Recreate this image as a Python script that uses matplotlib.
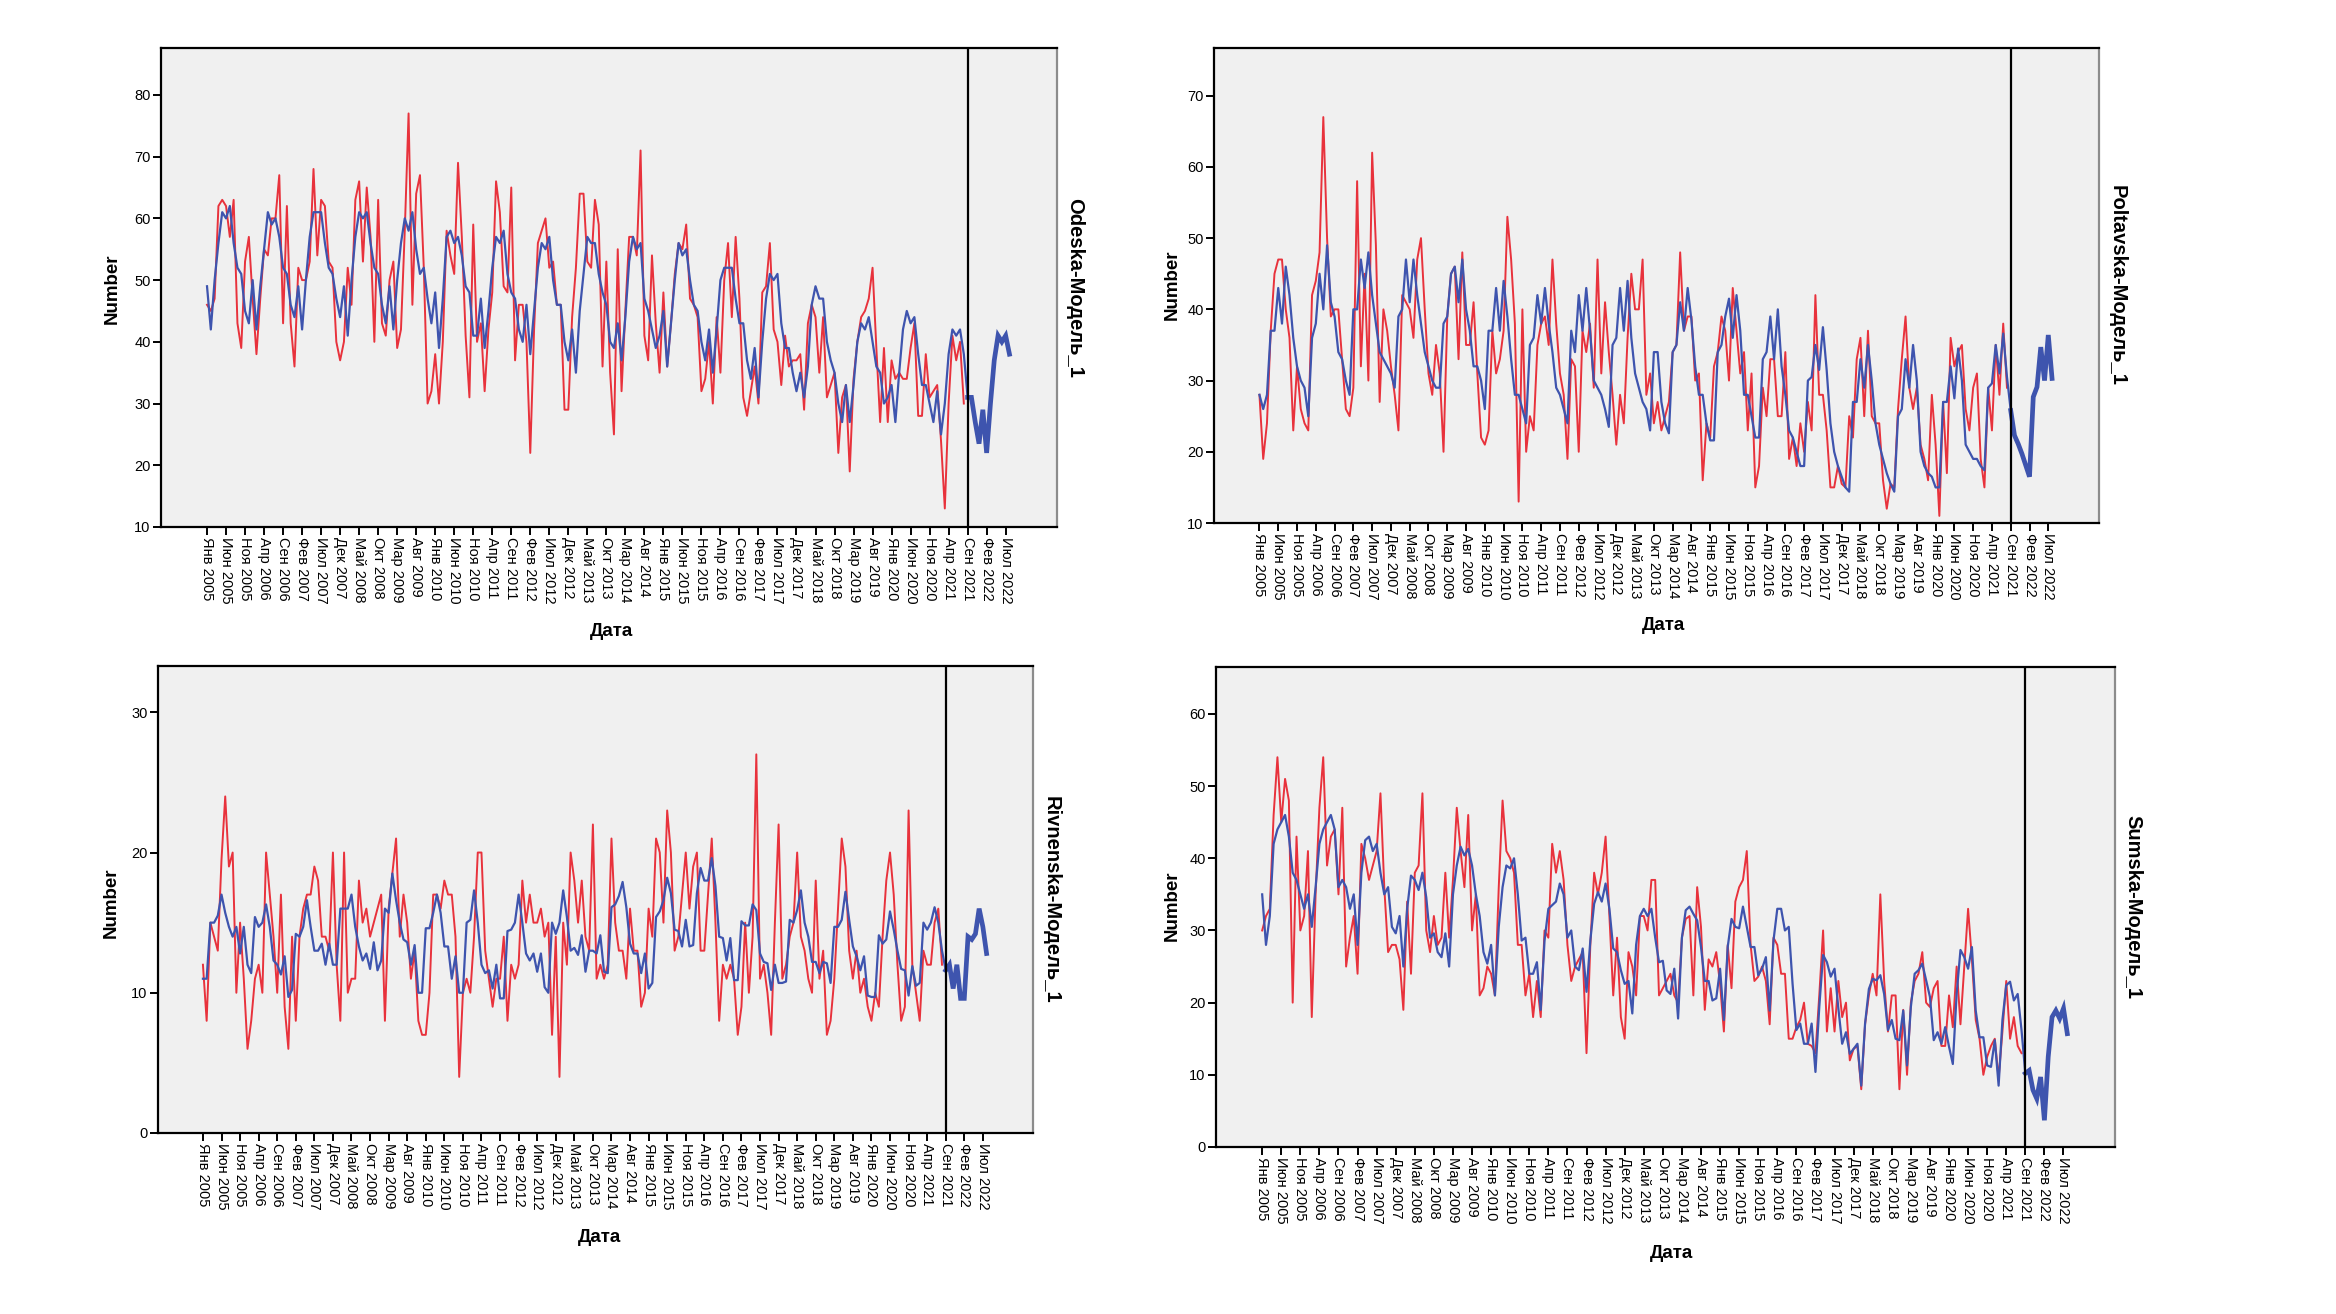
"""Observed vs model (Expert Modeler) monthly counts, four oblasts, Jan 2005 - Aug 2022."""
import matplotlib
matplotlib.use("Agg")
import matplotlib.pyplot as plt
import numpy as np

plt.rcParams["font.family"] = ["Liberation Sans", "DejaVu Sans"]

W, H = 2336, 1314

TICK_LABELS = ["Янв 2005", "Июн 2005", "Ноя 2005", "Апр 2006", "Сен 2006", "Фев 2007",
               "Июл 2007", "Дек 2007", "Май 2008", "Окт 2008", "Мар 2009", "Авг 2009",
               "Янв 2010", "Июн 2010", "Ноя 2010", "Апр 2011", "Сен 2011", "Фев 2012",
               "Июл 2012", "Дек 2012", "Май 2013", "Окт 2013", "Мар 2014", "Авг 2014",
               "Янв 2015", "Июн 2015", "Ноя 2015", "Апр 2016", "Сен 2016", "Фев 2017",
               "Июл 2017", "Дек 2017", "Май 2018", "Окт 2018", "Мар 2019", "Авг 2019",
               "Янв 2020", "Июн 2020", "Ноя 2020", "Апр 2021", "Сен 2021", "Фев 2022",
               "Июл 2022"]
FORECAST_START = 200  # Сен 2021

# ---- Odeska ----
ODESKA_OBS = [46, 45, 47, 62, 63, 62, 57, 63, 43, 39,
              53, 57, 47, 38, 47, 55, 54, 60, 60, 67,
              43, 62, 43, 36, 52, 50, 50, 53, 68, 54,
              63, 62, 53, 52, 40, 37, 40, 52, 46, 63,
              66, 53, 65, 57, 40, 63, 43, 41, 50, 53,
              39, 42, 58, 77, 46, 64, 67, 52, 30, 32,
              38, 30, 40, 58, 54, 51, 69, 57, 41, 31,
              59, 40, 43, 32, 42, 48, 66, 61, 49, 48,
              65, 37, 46, 46, 40, 22, 42, 56, 58, 60,
              52, 53, 46, 46, 29, 29, 44, 52, 64, 64,
              53, 52, 63, 59, 36, 53, 35, 25, 55, 32,
              45, 57, 57, 54, 71, 41, 37, 54, 43, 35,
              48, 36, 43, 51, 56, 55, 59, 47, 46, 44,
              32, 34, 40, 30, 44, 35, 50, 56, 44, 57,
              47, 31, 28, 32, 36, 30, 48, 49, 56, 42,
              40, 33, 41, 36, 37, 37, 38, 29, 43, 46,
              44, 35, 44, 31, 33, 35, 22, 31, 33, 19,
              34, 40, 44, 45, 47, 52, 39, 27, 39, 27,
              37, 34, 35, 34, 34, 39, 43, 28, 28, 38,
              31, 32, 33, 24, 13, 30, 41, 37, 40, 30]
ODESKA_FIT = [49, 42, 50, 56, 61, 60, 62, 56, 52, 51,
              45, 43, 50, 42, 49, 55, 61, 59, 60, 57,
              52, 51, 46, 44, 49, 42, 50, 57, 61, 61,
              61, 56, 52, 51, 47, 44, 49, 41, 50, 57,
              61, 60, 61, 56, 52, 51, 46, 43, 49, 42,
              50, 56, 60, 58, 61, 55, 51, 52, 47, 43,
              48, 39, 47, 57, 58, 56, 57, 54, 49, 48,
              41, 41, 47, 39, 45, 52, 57, 56, 58, 51,
              48, 47, 42, 40, 46, 38, 45, 52, 56, 55,
              57, 50, 46, 46, 40, 37, 42, 35, 45, 51,
              57, 56, 56, 51, 48, 46, 40, 39, 43, 37,
              44, 53, 57, 55, 56, 47, 45, 42, 39, 41,
              45, 36, 43, 50, 56, 54, 55, 50, 46, 45,
              40, 37, 42, 35, 42, 50, 52, 52, 52, 47,
              43, 43, 37, 34, 39, 31, 40, 47, 51, 50,
              51, 43, 39, 39, 35, 32, 35, 31, 36, 46,
              49, 47, 47, 40, 37, 35, 30, 27, 33, 27,
              33, 40, 43, 42, 44, 40, 36, 35, 30, 31,
              33, 27, 35, 42, 45, 43, 44, 38, 33, 33,
              30, 27, 32, 25, 30, 38, 42, 41, 42, 38]
ODESKA_FC = [31, 31, 27, 23.5, 29, 22, 30, 37, 41, 40, 41, 38]

# ---- Poltavska ----
POLTAVSKA_OBS = [28, 19, 24, 37, 45, 47, 47, 40, 36, 23,
                 32, 26, 24, 23, 42, 44, 48, 67, 50, 39,
                 40, 40, 33, 26, 25, 29, 58, 32, 45, 30,
                 62, 49, 27, 40, 37, 32, 28, 23, 42, 41,
                 40, 36, 47, 50, 40, 31, 28, 35, 31, 20,
                 39, 45, 46, 33, 48, 35, 35, 41, 31, 22,
                 21, 23, 37, 31, 33, 37, 53, 47, 38, 13,
                 40, 20, 25, 23, 35, 38, 39, 35, 47, 38,
                 31, 28, 19, 33, 32, 20, 37, 34, 38, 29,
                 47, 31, 41, 34, 28, 21, 28, 24, 36, 45,
                 40, 40, 47, 28, 31, 24, 27, 23, 25, 27,
                 34, 35, 48, 37, 39, 39, 30, 31, 16, 24,
                 22, 32, 34, 39, 37, 30, 43, 37, 31, 34,
                 23, 31, 15, 18, 29, 25, 33, 33, 25, 25,
                 34, 19, 22, 18, 24, 20, 27, 23, 42, 28,
                 28, 23, 15, 15, 18, 15.5, 15, 25, 22, 33,
                 36, 25, 37, 25, 24, 24, 16, 12, 15.5, 15,
                 26, 33, 39, 29, 26, 29, 21, 19, 16, 28,
                 21, 11, 27, 17, 36, 32, 34, 35, 26, 23,
                 29, 31, 19, 15, 29, 23, 35, 28, 38, 29]
POLTAVSKA_FIT = [28, 26, 28, 37, 37, 43, 38, 46, 42, 36,
                 32, 30, 29, 25, 36, 38, 45, 40, 49, 41,
                 39, 34, 33, 30, 28, 40, 40, 47, 43, 48,
                 42, 38, 34, 33, 32, 31, 29, 39, 40, 47,
                 41, 47, 42, 38, 34, 32, 30, 29, 29, 38,
                 39, 45, 46, 41, 47, 40, 37, 32, 32, 30,
                 26, 37, 37, 43, 37, 44, 39, 33, 28, 28,
                 26, 24, 35, 36, 42, 38, 43, 38, 34, 29,
                 28, 26, 24, 37, 34, 42, 37, 43, 37, 30,
                 29, 28, 26, 23.5, 35, 36, 43, 37, 44, 36,
                 31, 29, 27, 26, 23, 34, 34, 27, 24, 22.6,
                 34, 35, 41, 37, 43, 38.5, 32, 28, 28, 24,
                 21.6, 21.6, 34, 35, 39, 41.5, 36, 42, 37, 28,
                 28, 25, 22, 22, 33, 34, 39, 33, 40, 32,
                 28, 23, 22, 20, 18, 18, 30, 30.5, 35, 31.5,
                 37.5, 31.5, 24, 20, 18, 16.5, 15, 14.4, 27, 27,
                 33, 29, 35, 30, 24, 21, 19, 17, 15.5, 14.4,
                 25, 26, 33, 29, 35, 30, 20, 18, 17, 16.5,
                 15, 15, 27, 27, 32, 27.5, 34.5, 30, 21, 20,
                 19, 19, 18, 17.4, 29, 29.6, 35, 31, 36.6, 30.5]
POLTAVSKA_FC = [25.8, 22.3, 21.1, 19.7, 18.1, 16.5, 27.7, 29.1, 34.7, 30, 36.4, 30.3]

# ---- Rivnenska ----
RIVNENSKA_OBS = [12, 8, 15, 14, 13, 19.5, 24, 19, 20, 10,
                 15, 11, 6, 8, 11, 12, 10, 20, 17, 14,
                 10, 17, 9, 6, 14, 8, 14, 16, 17, 17,
                 19, 18, 14, 14, 13, 20, 12, 8, 20, 10,
                 11, 11, 18, 15, 16, 14, 15, 16, 17, 8,
                 16, 18.5, 21, 14, 17, 15, 11, 13, 8, 7,
                 7, 10, 17, 17, 16, 18, 17, 17, 14, 4,
                 10, 11, 10, 14, 20, 20, 13, 11, 9, 11,
                 11, 14, 8, 12, 11, 12, 18, 15, 17, 15,
                 15, 16, 14, 15, 7, 14, 4, 15, 12, 20,
                 18, 15, 18, 14, 13, 22, 11, 12, 11, 12,
                 21, 15, 13, 13, 11, 16, 13, 13, 9, 10,
                 16, 14, 21, 20, 15, 23, 20, 13, 14, 17,
                 20, 16, 19, 20, 13, 13, 17, 21, 15, 8,
                 12, 11, 12, 11, 7, 9, 15, 10, 14, 27,
                 11, 12, 10, 7, 15, 22, 11, 12, 14, 15,
                 20, 14, 13, 11, 10, 18, 11, 13, 7, 8,
                 11, 16, 21, 19, 13, 11, 13, 10, 11, 9,
                 8, 10, 9, 14, 18, 20, 17, 12, 8, 9,
                 23, 12, 10, 8, 13, 12, 12, 15, 16, 12]
RIVNENSKA_FIT = [11, 11, 15, 15, 15.5, 17, 15.7, 14.7, 14, 14.7,
                 12.8, 14.7, 12, 11.4, 15.4, 14.7, 15, 16.3, 14.7, 12.3,
                 12, 11.3, 12.6, 9.7, 10.2, 14.2, 14, 14.7, 16.6, 14.7,
                 13, 13, 13.5, 12, 13.5, 12, 12, 16, 16, 16,
                 17, 14.7, 13.3, 12.3, 12.8, 11.7, 13.6, 11.6, 12.3, 16,
                 15.7, 18.5, 16.6, 15, 13.8, 13.6, 12, 13.4, 10, 10,
                 14.6, 14.6, 15.7, 17, 15.7, 13.3, 13.3, 11, 12.6, 10,
                 10, 15, 15.2, 17.3, 15, 12, 11.4, 11.6, 10.3, 12,
                 9.6, 9.6, 14.4, 14.5, 15, 17, 15, 12.8, 12.3, 12.8,
                 11.5, 12.8, 10.4, 10, 15, 14.2, 15, 17.3, 15.4, 13,
                 13.2, 12.7, 14.1, 11.5, 13, 13, 12.8, 14.1, 11.5, 11.4,
                 16.1, 16.3, 16.9, 17.9, 16.1, 13.5, 12.8, 12.8, 11.4, 12.8,
                 10.3, 10.7, 15.4, 15.8, 16.6, 18.2, 17.1, 14.5, 14.4, 13.3,
                 15.2, 13.3, 13.4, 17.1, 18.9, 18, 18, 19.6, 17.6, 14,
                 13.9, 12.3, 13.9, 10.9, 10.9, 15.1, 14.8, 14.8, 16.3, 15.9,
                 12.8, 12.2, 12.1, 10.2, 12, 10.7, 10.7, 10.8, 15.2, 15,
                 15.9, 17.3, 15, 14, 12.2, 12.2, 11.4, 12.2, 12.1, 10.7,
                 14.7, 14.7, 15.2, 17.2, 15.2, 13.3, 12.6, 11.6, 12.6, 9.8,
                 9.7, 9.7, 14.1, 13.5, 13.8, 15.8, 14.5, 13, 11.7, 11.6,
                 9.8, 11.9, 10.5, 10.7, 15, 14.5, 15, 16.1, 15, 13]
RIVNENSKA_FC = [11.6, 12, 10.3, 12, 9.6, 9.6, 14, 13.8, 14.2, 16, 14.7, 12.8]

# ---- Sumska ----
SUMSKA_OBS = [30, 32, 33, 46, 54, 45, 51, 48, 20, 43,
              30, 32, 41, 18, 35, 47, 54, 39, 43, 44,
              35, 47, 25, 29, 32, 24, 42, 40, 37, 39,
              41, 49, 36, 27, 28, 28, 26, 19, 34, 24,
              38, 39, 49, 30, 27, 32, 28, 29, 38, 29,
              37, 47, 41, 36, 46, 30, 35, 21, 22, 25,
              24, 21, 36, 48, 41, 40, 38, 28, 28, 21,
              24, 18, 23, 18, 30, 29, 42, 38, 41, 37,
              28, 23, 25, 26, 27, 13, 28, 38, 35, 38,
              43, 32, 21, 29, 18, 15, 27, 25, 21, 32,
              32, 30, 37, 37, 21, 22, 23, 24, 21, 20,
              29, 31.6, 32, 21, 36, 30.5, 19, 26, 25, 27,
              22.6, 16, 28, 22, 34, 36, 37, 41, 28, 23,
              23.6, 25, 23, 17, 29, 28, 24, 24, 15, 15,
              16.6, 17.6, 20, 14.3, 14, 13, 21, 30, 16, 22,
              16, 23, 18, 20, 12, 13.6, 14, 8, 17, 21,
              24, 21, 35, 23, 16, 21, 21, 8, 19, 10,
              20, 23, 24, 27, 20, 19.4, 22, 23, 14, 14,
              21, 16.6, 25, 17, 25, 33, 26, 17.6, 15, 10,
              12.5, 14, 15, 9.5, 16, 23, 15, 18, 14, 13]
SUMSKA_FIT = [35, 28, 32, 42, 44, 45, 46, 43, 38, 37,
              35, 33, 35, 30.5, 36, 42, 44, 45, 46, 44,
              36, 37, 36, 33, 35, 28, 38, 42.5, 43, 41,
              42, 38, 35, 36, 30.5, 29.6, 32, 25, 33, 37.6,
              37, 35.6, 38, 34.6, 29, 29.6, 27, 26.3, 29.6, 25,
              35, 39, 41.6, 40.4, 41.3, 39, 35, 32, 27, 25.4,
              28, 21, 30.5, 36, 39, 38.6, 40, 35, 28.6, 29,
              24, 24, 25.6, 19, 28.6, 33, 33.5, 34, 36.5, 35,
              29, 30, 25, 24.5, 27.5, 21.5, 28.6, 33.7, 35.3, 34,
              36.5, 33, 27.5, 27, 24.5, 22.6, 23, 18.5, 28, 32,
              33, 32, 33, 29, 25.6, 25.8, 21.7, 21.2, 24.7, 17.8,
              29, 32.8, 33.3, 32.3, 31.4, 27.7, 23, 23, 20.3, 20.6,
              24.7, 17.6, 27.7, 31.6, 30.5, 30.3, 33.3, 30.5, 27.7, 27.7,
              23.8, 24.7, 26.3, 18.9, 28.6, 33, 33, 30, 30.5, 22.6,
              16.2, 17.1, 14.3, 14.3, 17.1, 10.4, 19.4, 26.6, 25.6, 23.6,
              24.7, 19.2, 14.3, 15.9, 12.9, 13.6, 14.3, 8.5, 17.1, 21.9,
              23.3, 23.1, 23.8, 21.2, 16.2, 17.6, 15, 14.8, 18.9, 11.3,
              19.4, 24, 24.5, 25.4, 23.1, 20.8, 14.8, 15.9, 14.3, 16.6,
              13.9, 11.5, 21.2, 27.3, 26.3, 24.7, 27.7, 18.9, 15.2, 15.2,
              11.3, 11.1, 14.8, 8.5, 17.6, 22.4, 22.9, 20.3, 21.2, 16.2]
SUMSKA_FC = [10.2, 10.6, 7.9, 6.7, 9.7, 3.7, 12.5, 18, 18.9, 17.8, 19.2, 15.7]

# name, obs, fit, forecast, y ticks, y top, axes box in px (left, top, right, bottom)
PANELS = [
    ("Odeska-Модель_1", ODESKA_OBS, ODESKA_FIT, ODESKA_FC, range(10, 81, 10), (10, 87.6),
     (161, 48, 1057, 527), (112, 289), (611, 632)),
    ("Poltavska-Модель_1", POLTAVSKA_OBS, POLTAVSKA_FIT, POLTAVSKA_FC, range(10, 71, 10), (10, 76.7),
     (1214, 48, 2099, 523), (1172, 285), (1663, 626)),
    ("Rivnenska-Модель_1", RIVNENSKA_OBS, RIVNENSKA_FIT, RIVNENSKA_FC, range(0, 31, 10), (0, 33.3),
     (158, 666, 1033, 1133), (111, 903), (599, 1237)),
    ("Sumska-Модель_1", SUMSKA_OBS, SUMSKA_FIT, SUMSKA_FC, range(0, 61, 10), (0, 66.5),
     (1216, 667, 2115, 1147), (1172, 906), (1672, 1254)),
]

RED = "#e8323c"
BLUE = "#3e54ae"


def fx(px):
    return px / W


def fy(py):
    return 1 - py / H


fig = plt.figure(figsize=(W / 100, H / 100), dpi=100)
for name, obs, fit, fc, yt, ylim, (l, t, r, b), num_xy, date_xy in PANELS:
    ax = fig.add_axes([fx(l), fy(b), (r - l) / W, (b - t) / H])
    ax.set_facecolor("#f0f0f0")
    n = len(obs)
    x = np.arange(n)
    xf = np.arange(FORECAST_START, FORECAST_START + len(fc))
    ax.plot(x, obs, color=RED, lw=1.4, zorder=3)
    ax.plot(np.append(x, xf[0]), np.append(fit, fc[0]), color=BLUE, lw=1.6, zorder=4)
    ax.plot(xf, fc, color=BLUE, lw=3.4, solid_joinstyle="miter", zorder=4)
    ax.axvline(FORECAST_START, color="black", lw=1.6, zorder=5)

    ax.set_xlim(-12.1, 223.5)
    ax.set_ylim(*ylim)
    ax.set_xticks(np.arange(0, 5 * len(TICK_LABELS), 5))
    ax.set_xticklabels(TICK_LABELS, rotation=270, fontsize=10.5, ha="center", va="top")
    ax.set_yticks(list(yt))
    ax.set_yticklabels([str(v) for v in yt], fontsize=10.5)
    ax.tick_params(axis="both", direction="out", length=6, width=1.4, pad=1.5, color="black")
    for side in ("left", "bottom", "top"):
        ax.spines[side].set_color("black")
        ax.spines[side].set_linewidth(1.6)
    ax.spines["right"].set_color("#8c8c8c")
    ax.spines["right"].set_linewidth(1.6)

    fig.text(fx(num_xy[0]), fy(num_xy[1]), "Number", rotation=90, fontsize=13.5,
             fontweight="bold", ha="center", va="center")
    fig.text(fx(date_xy[0]), fy(date_xy[1]), "Дата", fontsize=13.5,
             fontweight="bold", ha="center", va="center")
    fig.text(fx(r + 18), fy((t + b) / 2), name, rotation=270, fontsize=14.5,
             fontweight="bold", ha="center", va="center")

fig.savefig("out.png", dpi=100, facecolor="white")
